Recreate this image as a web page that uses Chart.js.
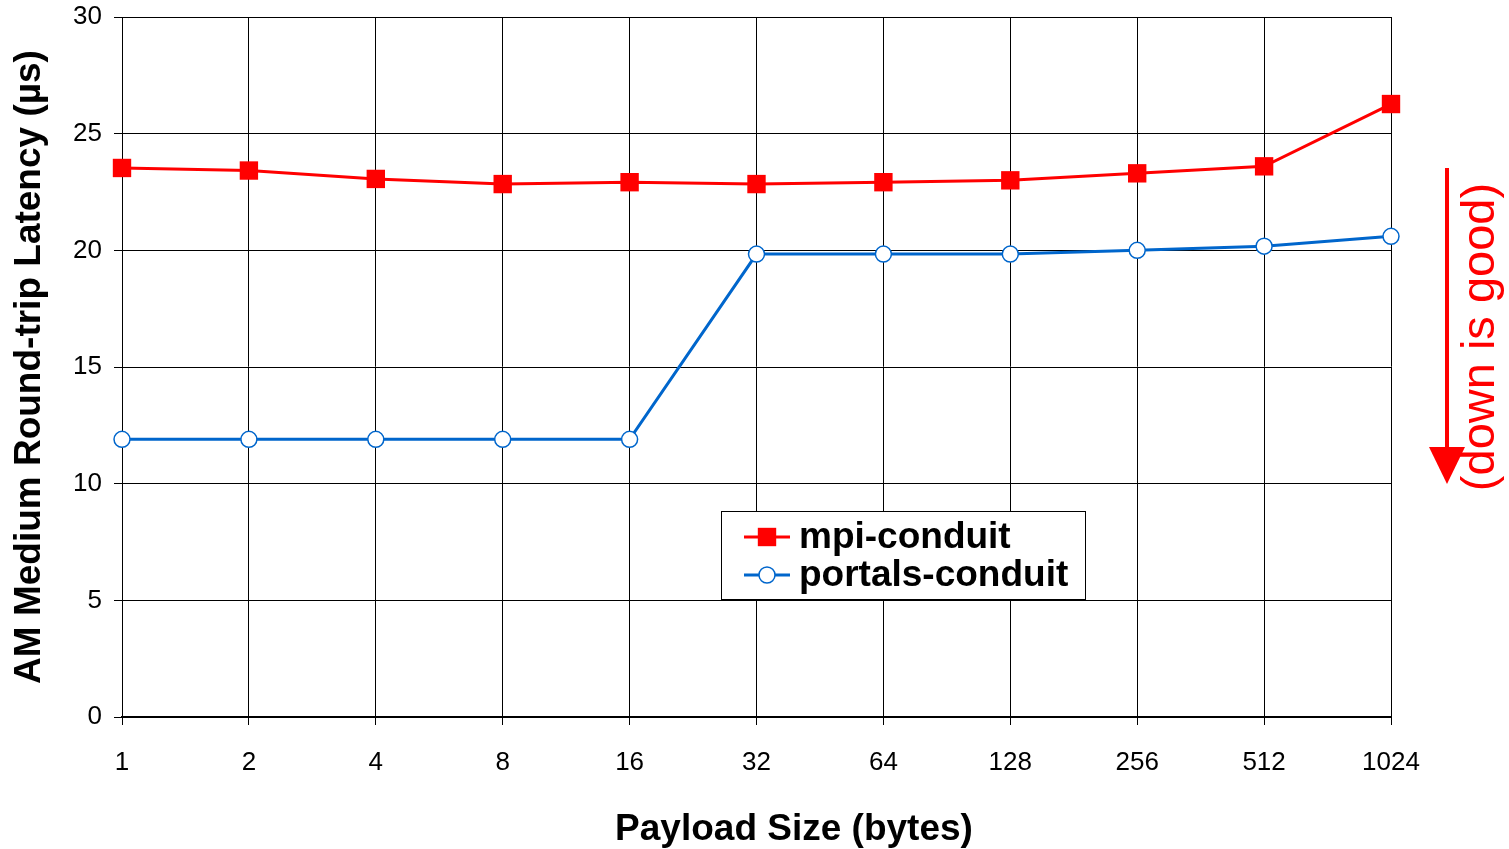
<!DOCTYPE html>
<html>
<head>
<meta charset="utf-8">
<script src="https://cdn.jsdelivr.net/npm/chart.js@4/dist/chart.umd.min.js"></script>
<style>
  html, body { margin: 0; padding: 0; background: #fff; }
  #wrap { width: 1509px; height: 849px; }
</style>
</head>
<body>
<div id="wrap"><canvas id="chart"></canvas></div>
<script>
const payloadSizes = ['1', '2', '4', '8', '16', '32', '64', '128', '256', '512', '1024'];
const mpiConduit = [23.53, 23.42, 23.06, 22.84, 22.92, 22.84, 22.92, 23.0, 23.3, 23.6, 26.27];
const portalsConduit = [11.9, 11.9, 11.9, 11.9, 11.9, 19.84, 19.84, 19.84, 20.0, 20.18, 20.6];
const yTicks = [0, 5, 10, 15, 20, 25, 30];

const FONT = "'Liberation Sans', Arial, sans-serif";
const RED = 'rgb(255, 0, 0)';
const BLUE = 'rgb(0, 102, 204)';

// legend box, x title and the "(down is good)" note
const extras = {
    id: 'extras',
    afterDraw(chart) {
        const ctx = chart.ctx;
        ctx.save();

        // x axis title (sits right of the plot centre in the original)
        ctx.fillStyle = '#000';
        ctx.font = 'bold 37px ' + FONT;
        ctx.textAlign = 'center';
        ctx.textBaseline = 'middle';
        ctx.fillText('Payload Size (bytes)', 794, 830);

        // legend
        const bx = 721, by = 511, bw = 364, bh = 88;
        ctx.fillStyle = '#fff';
        ctx.fillRect(bx, by, bw, bh);
        ctx.strokeStyle = '#000';
        ctx.lineWidth = 1;
        ctx.strokeRect(bx + 0.5, by + 0.5, bw, bh);

        const rows = [
            { ds: chart.data.datasets[0], y: by + 26 },
            { ds: chart.data.datasets[1], y: by + 64 }
        ];
        rows.forEach(function (row) {
            const ds = row.ds;
            ctx.strokeStyle = ds.borderColor;
            ctx.lineWidth = 3;
            ctx.beginPath();
            ctx.moveTo(bx + 23, row.y);
            ctx.lineTo(bx + 69, row.y);
            ctx.stroke();
            ctx.fillStyle = ds.pointBackgroundColor;
            ctx.strokeStyle = ds.pointBorderColor;
            ctx.lineWidth = ds.pointBorderWidth;
            ctx.beginPath();
            if (ds.pointStyle === 'rect') {
                const s = Math.SQRT1_2 * ds.pointRadius;
                ctx.rect(bx + 46 - s, row.y - s, 2 * s, 2 * s);
            } else {
                ctx.arc(bx + 46, row.y, ds.pointRadius, 0, Math.PI * 2);
            }
            ctx.fill();
            if (ds.pointBorderWidth) ctx.stroke();

            ctx.fillStyle = '#000';
            ctx.font = 'bold 37px ' + FONT;
            ctx.textBaseline = 'middle';
            ctx.textAlign = 'left';
            ctx.fillText(ds.label, bx + 78, row.y + 1);
        });

        // arrow
        const ax = 1447;
        ctx.strokeStyle = RED;
        ctx.fillStyle = RED;
        ctx.lineWidth = 4;
        ctx.beginPath();
        ctx.moveTo(ax, 168);
        ctx.lineTo(ax, 452);
        ctx.stroke();
        ctx.beginPath();
        ctx.moveTo(ax - 18, 447);
        ctx.lineTo(ax + 18, 447);
        ctx.lineTo(ax, 484);
        ctx.closePath();
        ctx.fill();

        // rotated note, reads bottom to top
        ctx.translate(1481, 337);
        ctx.rotate(-Math.PI / 2);
        ctx.font = '47px ' + FONT;
        ctx.textAlign = 'center';
        ctx.textBaseline = 'middle';
        ctx.fillText('(down is good)', 0, 0);
        ctx.restore();
    }
};

const data = {
    labels: payloadSizes,
    datasets: [{
        label: 'mpi-conduit',
        data: mpiConduit,
        borderColor: RED,
        backgroundColor: RED,
        borderWidth: 3,
        pointStyle: 'rect',
        pointRadius: 13,
        pointBackgroundColor: RED,
        pointBorderColor: RED,
        pointBorderWidth: 0,
        tension: 0
    }, {
        label: 'portals-conduit',
        data: portalsConduit,
        borderColor: BLUE,
        backgroundColor: '#fff',
        borderWidth: 3,
        pointStyle: 'circle',
        pointRadius: 8,
        pointBackgroundColor: '#fff',
        pointBorderColor: BLUE,
        pointBorderWidth: 1.5,
        tension: 0
    }]
};

new Chart(document.getElementById('chart'), {
    type: 'line',
    data: data,
    plugins: [extras],
    options: {
        responsive: true,
        maintainAspectRatio: false,
        animation: false,
        layout: { padding: { top: 17, right: 118, left: 0, bottom: 0 } },
        plugins: {
            legend: { display: false },
            tooltip: { enabled: false }
        },
        scales: {
            x: {
                offset: false,
                grid: { color: '#000', lineWidth: 1, tickLength: 8, tickColor: '#000' },
                border: { color: '#000', width: 2 },
                ticks: {
                    color: '#000',
                    font: { family: FONT, size: 26 },
                    padding: 22,
                    maxRotation: 0,
                    autoSkip: false
                },
                title: { display: false },
                afterFit(scale) { scale.height = 132; }
            },
            y: {
                min: 0,
                max: 30,
                afterBuildTicks(scale) {
                    scale.ticks = yTicks.map(function (v) { return { value: v }; });
                },
                grid: { color: '#000', lineWidth: 1, tickLength: 8, tickColor: '#000' },
                border: { color: '#000', width: 1 },
                ticks: {
                    color: '#000',
                    font: { family: FONT, size: 26 },
                    padding: 12
                },
                title: {
                    display: true,
                    text: 'AM Medium Round-trip Latency (µs)',
                    color: '#000',
                    font: { family: FONT, size: 37, weight: 'bold' },
                    padding: { top: 8, bottom: 0 }
                },
                afterFit(scale) {
                    scale.width = 122;
                    scale.paddingTop = 0;
                    scale.paddingBottom = 0;
                }
            }
        }
    }
});
</script>
</body>
</html>
